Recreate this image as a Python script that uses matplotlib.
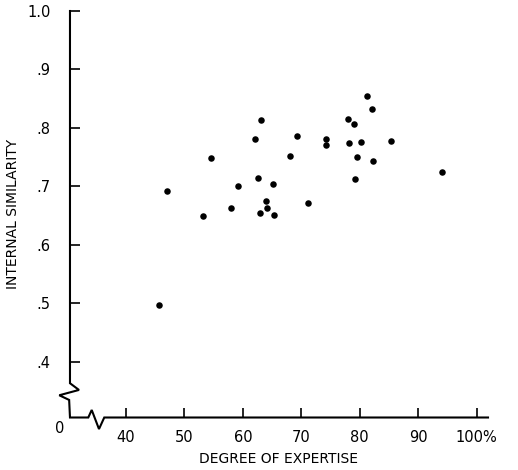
import numpy as np
import matplotlib
matplotlib.use("Agg")
import matplotlib.pyplot as plt

# degree of expertise (%) and internal similarity
expertise = [45.6, 47.0, 53.2, 54.5, 58.0, 59.1, 62.0, 62.5, 63.1, 62.9,
             64.0, 64.1, 65.1, 65.4, 68.1, 69.2, 71.1, 74.2, 74.2, 78.0,
             79.0, 78.1, 80.2, 79.6, 79.2, 81.2, 82.0, 82.2, 85.3, 94.1]
similarity = [0.497, 0.693, 0.650, 0.748, 0.664, 0.701, 0.781, 0.715, 0.813, 0.655,
              0.675, 0.663, 0.704, 0.652, 0.752, 0.786, 0.672, 0.781, 0.771, 0.815,
              0.806, 0.774, 0.776, 0.750, 0.713, 0.854, 0.832, 0.744, 0.778, 0.724]

x_ticks = [40, 50, 60, 70, 80, 90, 100]
x_ticklabels = ["40", "50", "60", "70", "80", "90", "100%"]
y_ticks = [0.4, 0.5, 0.6, 0.7, 0.8, 0.9, 1.0]
y_ticklabels = [".4", ".5", ".6", ".7", ".8", ".9", "1.0"]

plt.rcParams['font.family'] = ['DejaVu Sans']

fig = plt.figure(figsize=(5.18, 4.70), dpi=100)
ax = fig.add_axes([0.1351, 0.1117, 0.807, 0.8649])

ax.scatter(expertise, similarity, s=22, color='black', zorder=3, linewidths=0)

ax.set_xlim(30.42, 101.93)
ax.set_ylim(0.305, 1.0)

for s in ax.spines.values():
    s.set_visible(False)

# axis lines with break marks (axes fraction)
yax_x = [0, 0, 0.0215, -0.0256, -0.002, 0, 0.0438, 0.052, 0.0694, 0.082, 1.0]
yax_y = [1, 0.0843, 0.0678, 0.0547, 0.0432, 0, 0, 0.0185, -0.0284, 0, 0]
ax.plot(yax_x, yax_y, transform=ax.transAxes, color='black', lw=1.5,
        clip_on=False, solid_joinstyle='miter')

ax.set_xticks(x_ticks)
ax.set_xticklabels(x_ticklabels)
ax.set_yticks(y_ticks)
ax.set_yticklabels(y_ticklabels)
ax.tick_params(axis='both', direction='in', length=7, width=1.2, labelsize=10.5)
ax.tick_params(axis='x', pad=9)
ax.tick_params(axis='y', pad=14)

ax.text(-0.024, -0.028, "0", transform=ax.transAxes, ha='center', va='center',
        fontsize=10.5)

ax.set_xlabel("DEGREE OF EXPERTISE", fontsize=10, labelpad=5)
ax.text(-0.136, 0.5, "INTERNAL SIMILARITY", transform=ax.transAxes, rotation=90,
        ha='center', va='center', fontsize=10)

fig.savefig("out.png", dpi=100)
